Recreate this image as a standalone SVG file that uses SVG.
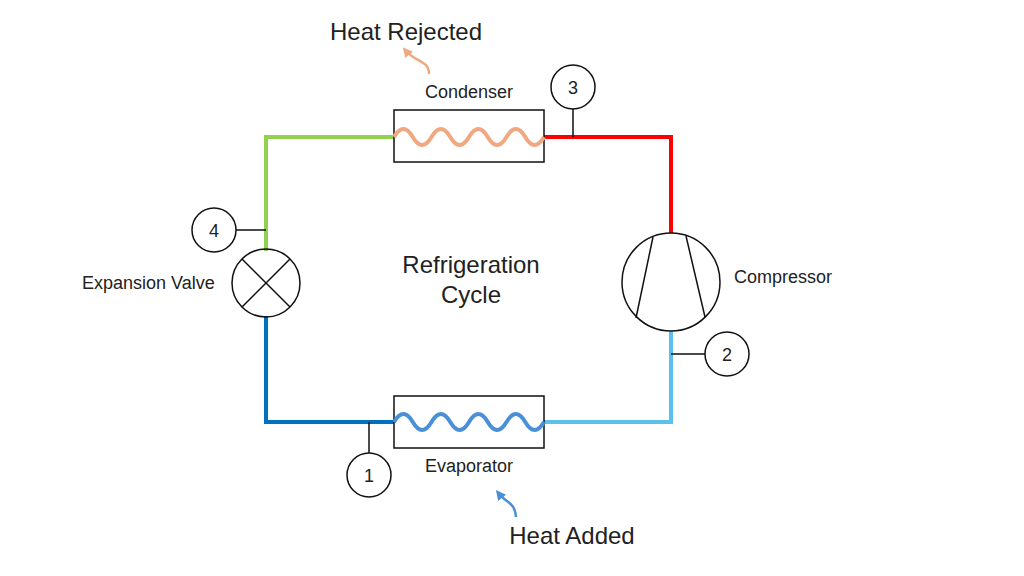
<svg xmlns="http://www.w3.org/2000/svg" width="1024" height="576" viewBox="0 0 1024 576">
<style>
.t{font-family:"Liberation Sans",Arial,sans-serif;fill:#222}
.k{fill:none;stroke:#111;stroke-width:1.5}
.p{fill:none;stroke-width:4}
</style>
<defs>
<marker id="ao" viewBox="0 0 10 10" refX="5" refY="5" markerWidth="4" markerHeight="4" orient="auto"><path d="M0,0L10,5L0,10z" fill="#f0a882"/></marker>
<marker id="ab" viewBox="0 0 10 10" refX="5" refY="5" markerWidth="4" markerHeight="4" orient="auto"><path d="M0,0L10,5L0,10z" fill="#4a90d9"/></marker>
</defs>
<rect width="1024" height="576" fill="#fff"/>
<g id="connectors">
<path class="p" stroke="#92d050" d="M394,137H266V251"/>
<path class="p" stroke="#ff0000" d="M544,137H671V233"/>
<path class="p" stroke="#5bc0eb" d="M671,331V422H544"/>
<path class="p" stroke="#0070c0" d="M266,316V422H394"/>
<path class="k" d="M573,109V137M236,230H266M671,354H705M369,422V453"/>
</g>
<g id="condenser">
<rect class="k" x="394" y="110" width="150" height="52"/>
<path fill="none" stroke="#f0a882" stroke-width="4" d="M394,137q9.4,-16 18.75,0t18.75,0q9.4,-16 18.75,0t18.75,0q9.4,-16 18.75,0t18.75,0q9.4,-16 18.75,0t18.75,0"/>
<text class="t" x="469" y="98" font-size="18" text-anchor="middle">Condenser</text>
</g>
<g id="evaporator">
<rect class="k" x="394" y="396" width="150" height="52"/>
<path fill="none" stroke="#4a90d9" stroke-width="4" d="M394,422q9.4,-16 18.75,0t18.75,0q9.4,-16 18.75,0t18.75,0q9.4,-16 18.75,0t18.75,0q9.4,-16 18.75,0t18.75,0"/>
<text class="t" x="469" y="472" font-size="18" text-anchor="middle">Evaporator</text>
</g>
<g id="compressor">
<circle class="k" cx="671" cy="282" r="49"/>
<path class="k" d="M653,237L636,318M686,236L705,317"/>
<text class="t" x="734" y="283" font-size="18">Compressor</text>
</g>
<g id="valve">
<circle class="k" cx="266" cy="283" r="34"/>
<path class="k" d="M242,259L290,307M290,259L242,307"/>
<text class="t" x="82" y="289" font-size="18">Expansion Valve</text>
</g>
<g id="s1"><circle class="k" cx="369" cy="475" r="22" fill="#fff"/><text class="t" x="369" y="482" font-size="18" text-anchor="middle">1</text></g>
<g id="s2"><circle class="k" cx="727" cy="354" r="22" fill="#fff"/><text class="t" x="727" y="361" font-size="18" text-anchor="middle">2</text></g>
<g id="s3"><circle class="k" cx="573" cy="87" r="22" fill="#fff"/><text class="t" x="573" y="94" font-size="18" text-anchor="middle">3</text></g>
<g id="s4"><circle class="k" cx="214" cy="230" r="22" fill="#fff"/><text class="t" x="214" y="237" font-size="18" text-anchor="middle">4</text></g>
<g id="labels">
<text class="t" x="471" y="273" font-size="24" text-anchor="middle">Refrigeration</text>
<text class="t" x="471" y="303" font-size="24" text-anchor="middle">Cycle</text>
<text class="t" x="406" y="40" font-size="24" text-anchor="middle">Heat Rejected</text>
<text class="t" x="572" y="544" font-size="24" text-anchor="middle">Heat Added</text>
<path fill="none" stroke="#f0a882" stroke-width="2.5" marker-end="url(#ao)" d="M429,74C429,60 415,62 406,51"/>
<path fill="none" stroke="#4a90d9" stroke-width="2.5" marker-end="url(#ab)" d="M516,517C515,502 506,503 499,494"/>
</g>
</svg>
